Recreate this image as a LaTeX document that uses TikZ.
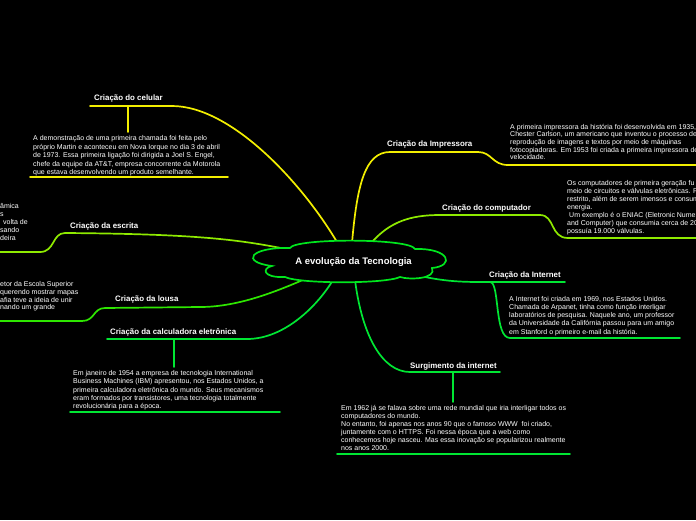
\documentclass[tikz,border=0pt]{standalone}
\usepackage{fontspec}
\setmainfont{Liberation Sans}
\definecolor{cyel}{HTML}{F2EE00}
\definecolor{clime}{HTML}{8EEA00}
\definecolor{clousa}{HTML}{2EE600}
\definecolor{cgrn}{HTML}{00E633}
\definecolor{ccloud}{HTML}{00E61E}
\newcommand\tlines[1]{\parbox[t]{300pt}{\raggedright #1}}
\begin{document}
\begin{tikzpicture}[x=1pt,y=-1pt,
  br/.style={line width=1.7pt, line cap=round},
  lbl/.style={font=\fontsize{7.9}{9}\selectfont\bfseries, text=white, inner sep=0pt, anchor=base west},
  txt/.style={font=\fontsize{7}{8.2}\selectfont, text=white, inner sep=0pt, anchor=base west},
]
\clip (0,0) rectangle (696,520);
\fill[black] (0,0) rectangle (696,520);

% ---------- Celular
\coordinate (celA) at (337,242);
\coordinate (celB) at (172,106);
\coordinate (celL) at (90,106);
\coordinate (celC) at (128,106);
\coordinate (celD) at (128,132);
\coordinate (celE) at (30,177);
\coordinate (celF) at (228,177);
\draw[br,cyel] (celA) .. controls (300,180) and (230,106) .. (celB) -- (celL);
\draw[br,cyel] (celC) -- (celD);
\draw[br,cyel] (celE) -- (celF);
\node[lbl] (celT) at (94,100) {Criação do celular};
\node[txt] (celX) at (33,140.6) {\fontsize{7}{8.5}\selectfont\tlines{A demonstração de uma primeira chamada foi feita pelo\\
próprio Martin e aconteceu em Nova Iorque no dia 3 de abril\\
de 1973. Essa primeira ligação foi dirigida a Joel S. Engel,\\
chefe da equipe da AT\&T, empresa concorrente da Motorola\\
que estava desenvolvendo um produto semelhante.}};

% ---------- Impressora
\coordinate (impA) at (352,243);
\coordinate (impB) at (390,152);
\coordinate (impC) at (478,152);
\coordinate (impD) at (508,165);
\coordinate (impE) at (700,165);
\draw[br,cyel] (impA) .. controls (357,185) and (365,152) .. (impB) -- (impC)
  .. controls (492,152) and (492,165) .. (impD) -- (impE);
\node[lbl] (impT) at (387,146) {Criação da Impressora};
\node[txt] (impX) at (510,129) {\fontsize{7}{7.7}\selectfont\tlines{A primeira impressora da história foi desenvolvida em 1935,\\
Chester Carlson, um americano que inventou o processo de\\
reprodução de imagens e textos por meio de máquinas\\
fotocopiadoras. Em 1953 foi criada a primeira impressora de\\
velocidade.}};

% ---------- Computador
\coordinate (comA) at (372,242);
\coordinate (comB) at (440,215);
\coordinate (comC) at (540,215);
\coordinate (comD) at (568,238);
\coordinate (comE) at (700,238);
\draw[br,clime] (comA) .. controls (390,222) and (410,215) .. (comB) -- (comC)
  .. controls (555,215) and (550,238) .. (comD) -- (comE);
\node[lbl] (comT) at (442,210) {Criação do computador};
\node[txt] (comX) at (567,185.6) {\fontsize{7}{8.05}\selectfont\tlines{Os computadores de primeira geração fu\\
meio de circuitos e válvulas eletrônicas. P\\
restrito, além de serem imensos e consum\\
energia.\\
\hspace*{2pt}Um exemplo é o ENIAC (Eletronic Numer\\
and Computer) que consumia cerca de 20\\
possuía 19.000 válvulas.}};

% ---------- Internet
\coordinate (intA) at (425,277);
\coordinate (intB) at (480,282);
\coordinate (intC) at (565,282);
\coordinate (intD) at (490,282);
\coordinate (intE) at (510,338);
\coordinate (intF) at (680,338);
\draw[br,cgrn] (intA) .. controls (445,281) and (460,282) .. (intB) -- (intC);
\draw[br,cgrn] (intD) .. controls (500,282) and (494,338) .. (intE) -- (intF);
\node[lbl] (intT) at (489,277.5) {Criação da Internet};
\node[txt] (intX) at (509,301.6) {\fontsize{7}{8.1}\selectfont\tlines{A Internet foi criada em 1969, nos Estados Unidos.\\
Chamada de Arpanet, tinha como função interligar\\
laboratórios de pesquisa. Naquele ano, um professor\\
da Universidade da Califórnia passou para um amigo\\
em Stanford o primeiro e-mail da história.}};

% ---------- Surgimento da internet
\coordinate (surA) at (355,280);
\coordinate (surB) at (410,372);
\coordinate (surC) at (500,372);
\coordinate (surD) at (453,372);
\coordinate (surE) at (453,402);
\coordinate (surF) at (337,454);
\coordinate (surG) at (570,454);
\draw[br,cgrn] (surA) .. controls (362,335) and (382,372) .. (surB) -- (surC);
\draw[br,cgrn] (surD) -- (surE);
\draw[br,cgrn] (surF) -- (surG);
\node[lbl] (surT) at (410,368.2) {Surgimento da internet};
\node[txt] (surX) at (341,410) {\fontsize{7}{8}\selectfont\tlines{Em 1962 já se falava sobre uma rede mundial que iria interligar todos os\\
computadores do mundo.\\
No entanto, foi apenas nos anos 90 que o famoso WWW~ foi criado,\\
juntamente com o HTTPS. Foi nessa época que a web como\\
conhecemos hoje nasceu. Mas essa inovação se popularizou realmente\\
nos anos 2000.}};

% ---------- Calculadora
\coordinate (calA) at (333,280);
\coordinate (calB) at (247,339);
\coordinate (calC) at (107,339);
\coordinate (calD) at (174,339);
\coordinate (calE) at (174,367);
\coordinate (calF) at (70,412);
\coordinate (calG) at (280,412);
\draw[br,cgrn] (calA) .. controls (318,305) and (285,339) .. (calB) -- (calC);
\draw[br,cgrn] (calD) -- (calE);
\draw[br,cgrn] (calF) -- (calG);
\node[lbl] (calT) at (110,334.2) {Criação da calculadora eletrônica};
\node[txt] (calX) at (73,375.6) {\tlines{Em janeiro de 1954 a empresa de tecnologia International\\
Business Machines (IBM) apresentou, nos Estados Unidos, a\\
primeira calculadora eletrônica do mundo. Seus mecanismos\\
eram formados por transistores, uma tecnologia totalmente\\
revolucionária para a época.}};

% ---------- Lousa
\coordinate (louA) at (312,276);
\coordinate (louB) at (200,307);
\coordinate (louC) at (105,308);
\coordinate (louD) at (82,321);
\coordinate (louE) at (-5,321);
\draw[br,clousa] (louA) .. controls (280,290) and (240,307) .. (louB) -- (louC)
  .. controls (93,308) and (95,321) .. (louD) -- (louE);
\node[lbl] (louT) at (115,301.8) {Criação da lousa};
\node[txt] (louX) at (0,286.5) {\fontsize{7}{7.8}\selectfont\tlines{etor da Escola Superior\\
querendo mostrar mapas\\
afia teve a ideia de unir\\
nando um grande}};

% ---------- Escrita
\coordinate (escA) at (286,249);
\coordinate (escB) at (65,233);
\coordinate (escC) at (40,252);
\coordinate (escD) at (-5,252);
\draw[br,clime] (escA) .. controls (240,240) and (200,234) .. (escB)
  .. controls (52,233) and (55,252) .. (escC) -- (escD);
\node[lbl] (escT) at (70,228.5) {Criação da escrita};
\node[txt] (escX) at (0,208.5) {\fontsize{7}{8.1}\selectfont\tlines{âmica\\
s\\
\hspace*{3pt}volta de\\
sando\\
deira}};

% ---------- Central cloud
\draw[line width=1.7pt, ccloud, fill=black]
  (290,248) .. controls (295,238) and (410,238) .. (415,249)
  .. controls (450,248) and (455,266) .. (432,268)
  .. controls (437,279) and (410,280) .. (400,277)
  .. controls (385,284) and (300,284) .. (285,277)
  .. controls (262,278) and (262,268) .. (272,266)
  .. controls (240,262) and (250,247) .. cycle;
\node[font=\fontsize{9.5}{11}\selectfont\bfseries, text=white, inner sep=0pt] (root) at (353.5,262) {A evolução da Tecnologia};
\end{tikzpicture}
\end{document}
